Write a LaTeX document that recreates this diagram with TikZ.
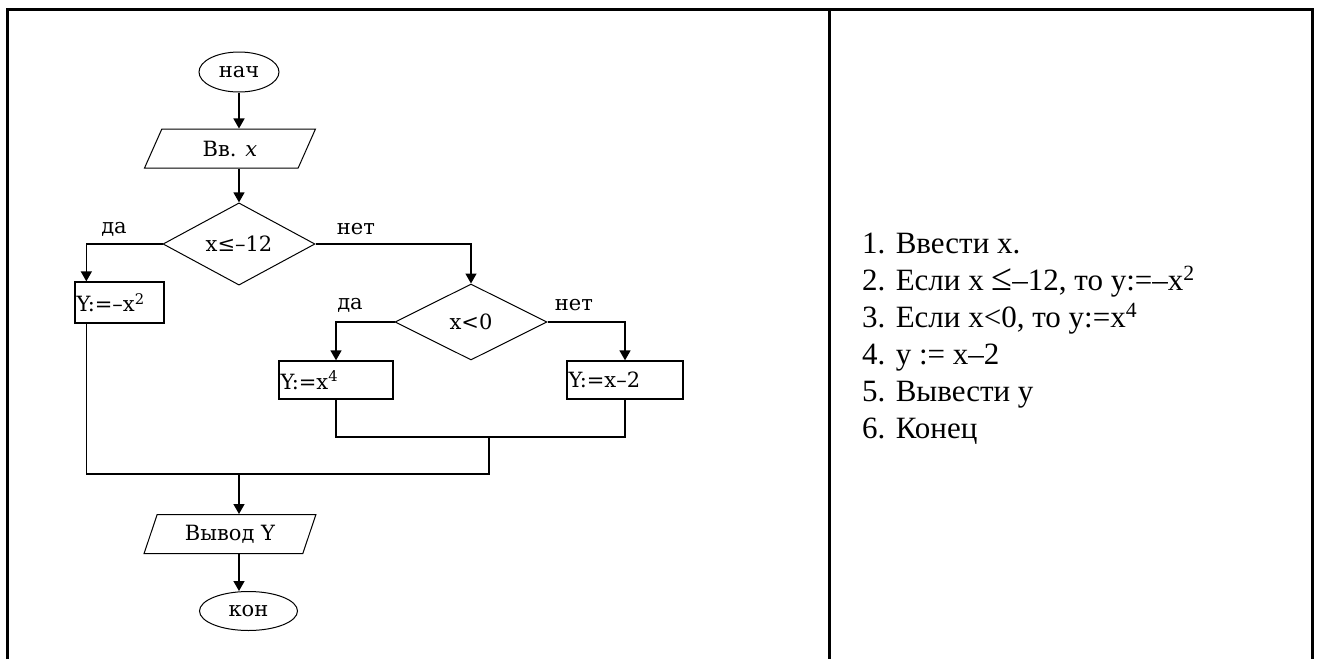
\documentclass[tikz,border=0pt]{standalone}
\usepackage{fontspec}
\setmainfont{Liberation Serif}
\newfontfamily\fcfont{DejaVu Serif}
\usetikzlibrary{shapes.geometric,arrows.meta}
\begin{document}
\begin{tikzpicture}[x=1pt,y=-1pt,
  every node/.style={font=\fcfont\fontsize{21}{21}\selectfont},
  term/.style={ellipse, draw, line width=1pt, inner sep=0pt, minimum width=80pt, minimum height=40pt},
  io/.style={trapezium, trapezium left angle=66, trapezium right angle=114, trapezium stretches=true,
             draw, line width=1pt, inner sep=0pt, minimum width=172pt, minimum height=39pt},
  dec/.style={diamond, draw, line width=1pt, inner sep=0pt, minimum width=152pt, minimum height=76pt},
  proc/.style={rectangle, draw, line width=1.3pt, inner sep=1.5pt, align=left},
  lbl/.style={inner sep=0pt},
  flow/.style={line width=1.4pt},
  arr/.style={flow, -{Triangle[width=11pt,length=10pt]}},
  frame/.style={line width=3pt},
  txt/.style={anchor=base west, inner sep=0pt, font=\rmfamily\fontsize{31}{31}\selectfont}
]
\useasboundingbox (0,0) rectangle (1318,659);
% frame
\draw[frame] (7,659) -- (7,9) -- (1312,9) -- (1312,659);
\draw[frame] (829,9) -- (829,659);

% flowchart nodes
\node[term] (start) at (239,72) {нач};
\node[io] (in1) at (230,148.5) {Вв. \textit{x}};
\node[dec] (d1) at (239,244) {x≤–12};
\node[proc, text width=86pt, minimum height=41pt] (b1) at (119.5,302.5) {Y:=–x\textsuperscript{2}};
\node[dec] (d2) at (471,322) {x<0};
\node[proc, text width=111pt, minimum height=38pt] (b2) at (336,380) {Y:=x\textsuperscript{4}};
\node[proc, text width=113pt, minimum height=38pt] (b3) at (625,380) {Y:=x–2};
\node[io] (out) at (230,534) {Вывод Y};
\node[term, minimum width=98pt, minimum height=39pt] (end) at (248.5,611) {кон};

% labels
\node[lbl] (l1) at (114,229) {да};
\node[lbl] (l2) at (356,229) {нет};
\node[lbl] (l3) at (350,305) {да};
\node[lbl] (l4) at (574,305) {нет};

% helper coordinates
\coordinate (b1in) at ([xshift=12pt]b1.north west);
\coordinate (b1out) at ([xshift=12pt]b1.south west);
\coordinate (j2) at (489,437);
\coordinate (j1) at (489,474);
\coordinate (j0) at (239,474);

% connectors
\draw[arr] (start.south) -- (start.south |- in1.north);
\draw[arr] (in1.south -| d1.north) -- (d1.north);
\draw[arr] (d1.west) -| (b1in);
\draw[arr] (d1.east) -| (d2.north);
\draw[arr] (d2.west) -| (b2.north);
\draw[arr] (d2.east) -| (b3.north);
\draw[flow] (b2.south) |- (j2) -| (b3.south);
\draw[flow] (b1out) |- (j1) -- (j2);
\draw[arr] (j0) -- (j0 |- out.north);
\draw[arr] (j0 |- out.south) -- (j0 |- end.north);

% right panel text
\node[txt] (t1) at (862,253) {1. Ввести х.};
\node[txt] (t2) at (862,290) {2. Если x {\fontsize{38}{38}\selectfont ≤}–12, то y:=–x\textsuperscript{2}};
\node[txt] (t3) at (862,327) {3. Если x<0, то y:=x\textsuperscript{4}};
\node[txt] (t4) at (862,364) {4. y := x–2};
\node[txt] (t5) at (862,401) {5. Вывести у};
\node[txt] (t6) at (862,438) {6. Конец};
\end{tikzpicture}
\end{document}
